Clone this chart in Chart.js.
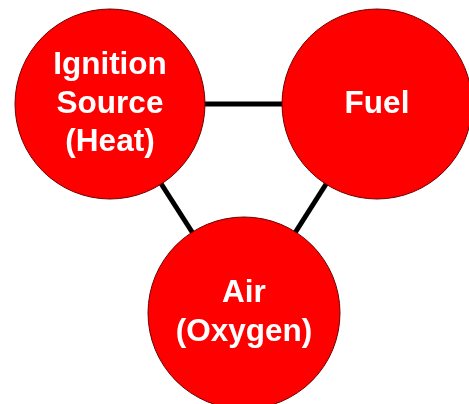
<!DOCTYPE html>
<html>
<head>
<meta charset="utf-8">
<script src="https://cdn.jsdelivr.net/npm/chart.js@4/dist/chart.umd.min.js"></script>
<style>
  html, body { margin: 0; padding: 0; background: #fff; }
  #wrap { width: 469px; height: 404px; }
</style>
</head>
<body>
<div id="wrap"><canvas id="fireChart" width="469" height="404"></canvas></div>
<script>
  // nodes of the fire triangle
  const nodeNames = ['Ignition Source (Heat)', 'Fuel', 'Air (Oxygen)'];
  const nodeLines = [['Ignition', 'Source', '(Heat)'], ['Fuel'], ['Air', '(Oxygen)']];
  const nodeX = [110, 377, 244];
  const nodeY = [104, 104, 313];
  const nodeR = [95, 95, 96];
  // links between nodes (index pairs)
  const links = [[0, 1], [0, 2], [1, 2]];

  const nodePoints = nodeX.map((x, i) => ({ x: x, y: nodeY[i], r: nodeR[i] }));

  const linkSets = links.map(l => ({
    type: 'scatter',
    data: [{ x: nodeX[l[0]], y: nodeY[l[0]] }, { x: nodeX[l[1]], y: nodeY[l[1]] }],
    showLine: true,
    borderColor: '#000',
    borderWidth: 5,
    pointRadius: 0,
    clip: false,
    order: 2
  }));

  const labelPlugin = {
    id: 'nodeLabels',
    afterDatasetsDraw(chart) {
      const meta = chart.getDatasetMeta(chart.data.datasets.length - 1);
      const c = chart.ctx;
      c.save();
      c.fillStyle = '#fff';
      c.font = 'bold 31.5px "Liberation Sans", Arial, sans-serif';
      c.textAlign = 'center';
      c.textBaseline = 'middle';
      meta.data.forEach((pt, i) => {
        const lines = nodeLines[i];
        const lh = 38.5;
        const top = pt.y - (lines.length - 1) * lh / 2;
        lines.forEach((t, j) => c.fillText(t, pt.x, top + j * lh));
      });
      c.restore();
    }
  };

  const ctx = document.getElementById('fireChart').getContext('2d');
  const fireChart = new Chart(ctx, {
    type: 'bubble',
    data: {
      labels: nodeNames,
      datasets: [...linkSets, {
        type: 'bubble',
        data: nodePoints,
        backgroundColor: '#ff0000',
        borderColor: '#6e0000',
        borderWidth: 1,
        clip: false,
        order: 1
      }]
    },
    options: {
      responsive: false,
      animation: false,
      events: [],
      layout: { padding: 0, autoPadding: false },
      scales: {
        x: { type: 'linear', min: 0, max: 469, display: false },
        y: { type: 'linear', min: 0, max: 404, reverse: true, display: false }
      },
      plugins: {
        legend: { display: false },
        tooltip: { enabled: false }
      }
    },
    plugins: [labelPlugin]
  });
</script>
</body>
</html>
